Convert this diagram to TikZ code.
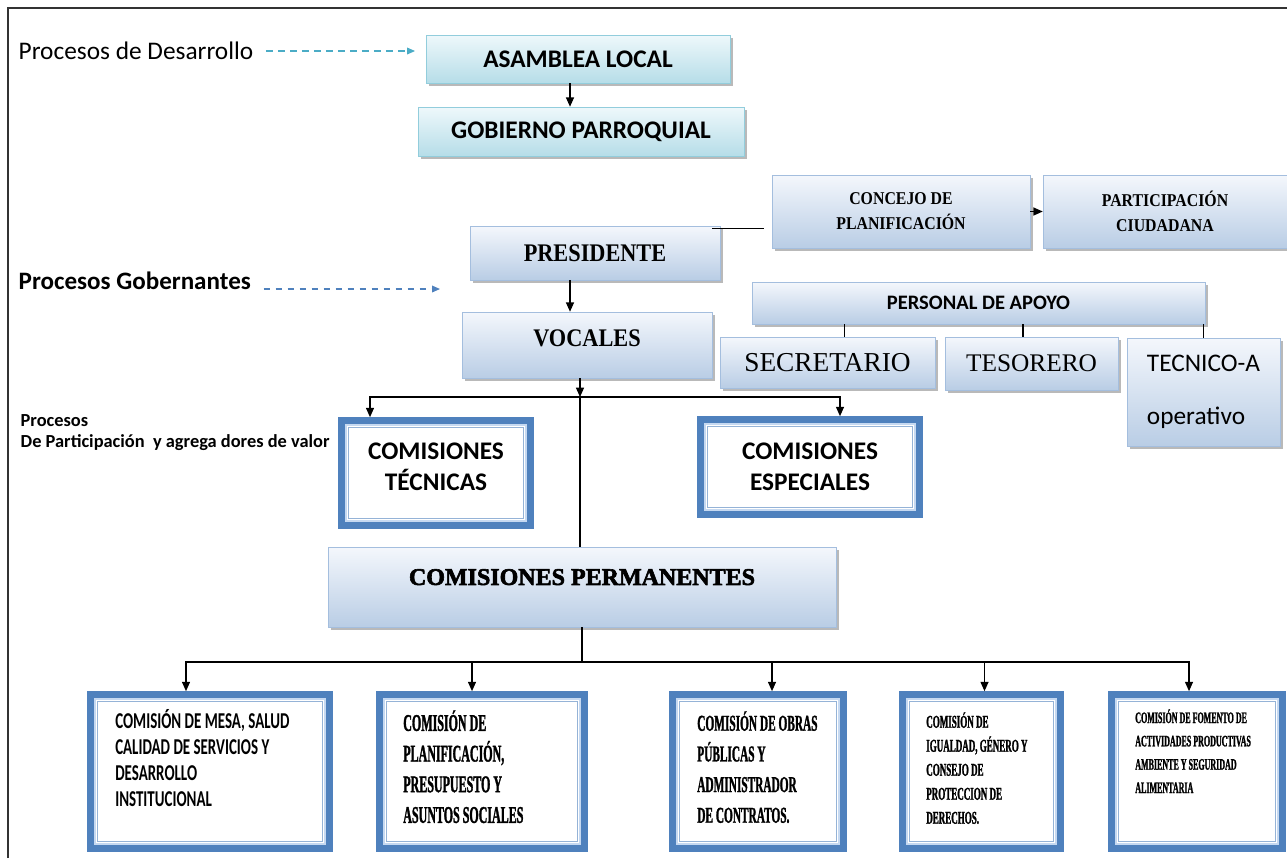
\documentclass[tikz,border=0pt]{standalone}
\usepackage{fontspec}
\setmainfont{Carlito}
\newfontfamily\tnr{Liberation Serif}
\newfontfamily\cnd{Liberation Serif}[FakeStretch=0.88]
\newfontfamily\nar{Liberation Serif}[FakeStretch=0.5,BoldFeatures={FakeBold=1.2}]
\newfontfamily\agn{Carlito}[FakeStretch=0.66]
\newfontfamily\alg{Liberation Serif}[BoldFeatures={FakeBold=2.5}]
\usetikzlibrary{arrows.meta,shadows}
\definecolor{bx1}{HTML}{F4F7FC}
\definecolor{bx2}{HTML}{B9CDE5}
\definecolor{bxd}{HTML}{A4BEDE}
\definecolor{cy1}{HTML}{EEF8FB}
\definecolor{cy2}{HTML}{B6DDE8}
\definecolor{cyd}{HTML}{92CDDC}
\definecolor{dbl}{HTML}{4F81BD}
\definecolor{lbl}{HTML}{C6D9F1}
\definecolor{mbl}{HTML}{95B3D7}
\definecolor{tl}{HTML}{4BACC6}
\newcommand{\fsz}[2]{\fontsize{#1}{#2}\selectfont}

\begin{document}
\begin{tikzpicture}[x=0.75pt,y=-0.75pt,
  sz/.style 2 args={minimum width=#1*0.75pt,minimum height=#2*0.75pt},
  b/.style={draw=bxd,top color=bx1,bottom color=bx2,inner sep=0pt,align=center,
    drop shadow={shadow xshift=2pt,shadow yshift=-2pt,fill=black!55}},
  c/.style={b,draw=cyd,top color=cy1,bottom color=cy2},
  d/.style={draw=dbl,line width=5pt,fill=white,inner sep=0pt,align=center,
    path picture={
      \draw[lbl,line width=1.6pt] ([xshift=3.6pt,yshift=-3.6pt]path picture bounding box.north west) rectangle ([xshift=-3.6pt,yshift=3.6pt]path picture bounding box.south east);
      \draw[mbl,line width=0.8pt] ([xshift=5.2pt,yshift=-5.2pt]path picture bounding box.north west) rectangle ([xshift=-5.2pt,yshift=5.2pt]path picture bounding box.south east);}},
  t/.style={anchor=north west,align=left,inner sep=0pt},
  a/.style={line width=0.9pt,-{Triangle[length=7pt,width=6pt]}},
  da/.style={line width=1pt,dash pattern=on 5pt off 4pt,-{Triangle[length=6pt,width=5pt]}}]
  \useasboundingbox (0,0) rectangle (1287,858);
  \draw[line width=1pt,black!80] (8,858) -- (8,8) -- (1287,8);

  \node[anchor=west,font=\fsz{19}{23}] (pd) at (14,51) {Procesos de Desarrollo};
  \node[anchor=west,font=\bfseries\fsz{18.8}{23}] (pg) at (14,281) {Procesos Gobernantes};
  \node[anchor=north west,align=left,font=\bfseries\fsz{13.8}{15.5}] (pp) at (16,410) {Procesos\\De Participación~ y agrega dores de valor};

  \node[c,sz={304}{48},font=\bfseries\fsz{19}{22}] (as) at (578,59) {ASAMBLEA LOCAL};
  \node[c,sz={326}{49},font=\bfseries\fsz{19}{22}] (gp) at (581,131.5) {GOBIERNO PARROQUIAL};
  \node[b,sz={258}{73},font=\cnd\bfseries\fsz{13.5}{18.75}] (co) at (901,211.5) {CONCEJO DE\\PLANIFICACIÓN};
  \node[b,sz={244}{73},font=\cnd\bfseries\fsz{13.5}{18.75}] (pa) at (1165,211.5) {PARTICIPACIÓN\\CIUDADANA};
  \node[b,sz={250}{54},font=\cnd\bfseries\fsz{19}{23}] (pr) at (595,253) {PRESIDENTE};
  \node[b,sz={250}{66},font=\cnd\bfseries\fsz{19}{23},text depth=10pt] (vo) at (587,345) {VOCALES};
  \node[b,sz={453}{42},font=\bfseries\fsz{15.4}{18}] (ap) at (978.5,303) {PERSONAL DE APOYO};
  \node[b,sz={215}{51},font=\tnr\fsz{20.5}{24}] (se) at (827.5,362.5) {SECRETARIO};
  \node[b,sz={173}{53},font=\tnr\fsz{19}{23}] (te) at (1031.5,363.5) {TESORERO};
  \node[b,sz={153}{108},font=\fsz{19}{22},align=left] (tc) at (1203.5,392) {TECNICO-A\\[18pt]operativo};

  \node[d,sz={189}{105},font=\bfseries\fsz{19}{23},text depth=9pt] (ct) at (436,473) {COMISIONES\\TÉCNICAS};
  \node[d,sz={219}{95},font=\bfseries\fsz{19}{23}] (ce) at (810,467) {COMISIONES\\ESPECIALES};
  \node[b,sz={508}{80},font=\alg\bfseries\fsz{18}{22},text depth=15pt] (pe) at (582,587) {COMISIONES PERMANENTES};

  \node[d,sz={239}{154}] (c1) at (210,771.5) {};
  \node[d,sz={205}{154}] (c2) at (482,771.5) {};
  \node[d,sz={171}{154}] (c3) at (758,771.5) {};
  \node[d,sz={158}{154}] (c4) at (981.5,771.5) {};
  \node[d,sz={171}{154}] (c5) at (1197,771.5) {};
  \node[t,font=\agn\bfseries\fsz{17}{19.5}] (t1) at (115,709) {COMISIÓN DE MESA, SALUD\\CALIDAD DE SERVICIOS Y\\DESARROLLO\\INSTITUCIONAL};
  \node[t,font=\nar\bfseries\fsz{18}{23}] (t2) at (403,710) {COMISIÓN DE\\PLANIFICACIÓN,\\PRESUPUESTO Y\\ASUNTOS SOCIALES};
  \node[t,font=\nar\bfseries\fsz{17}{23}] (t3) at (697,711) {COMISIÓN DE OBRAS\\PÚBLICAS Y\\ADMINISTRADOR\\DE CONTRATOS.};
  \node[t,font=\nar\bfseries\fsz{13.5}{18}] (t4) at (926,712) {COMISIÓN DE\\IGUALDAD, GÉNERO Y\\CONSEJO DE\\PROTECCION DE\\DERECHOS.};
  \node[t,font=\nar\bfseries\fsz{12}{17.5}] (t5) at (1135,709) {COMISIÓN DE FOMENTO DE\\ACTIVIDADES PRODUCTIVAS\\AMBIENTE Y SEGURIDAD\\ALIMENTARIA};

  \coordinate (ge) at (440,289);
  \coordinate (vb) at (580,397);
  \coordinate (pb) at (582,662);

  \draw[da,tl,shorten <=6pt,shorten >=8pt] (pd.east) -- (pd.east -| as.west);
  \draw[da,dbl,shorten <=6pt] (pg.east |- ge) -- (ge);
  \draw[a] ([shift={(-8,0)}]as.south) -- ([shift={(-8,0)}]as.south |- gp.north);
  \draw[line width=0.9pt] ([shift={(-8,3)}]pr.north east) -- ([shift={(-8,3)}]pr.north east -| co.west);
  \draw[a] (co) -- (pa);
  \draw[a] ([shift={(-25,0)}]pr.south) -- ([shift={(-25,0)}]pr.south |- vo.north);
  \draw[line width=0.9pt] ([shift={(17,0)}]se.north) -- ([shift={(17,0)}]se.north |- ap.south);
  \draw[line width=0.9pt] ([shift={(-8.5,0)}]te.north) -- ([shift={(-8.5,0)}]te.north |- ap.south);
  \draw[line width=0.9pt] (tc.north) -- (tc.north |- ap.south);
  \draw[a] ([shift={(-7,0)}]vo.south) -- (vb);
  \draw[a] (vb) -| ([shift={(-66,0)}]ct.north);
  \draw[a] (vb) -| ([shift={(30,0)}]ce.north);
  \draw[line width=0.9pt] (vb) -- (vb |- pe.north);
  \draw[line width=0.9pt] (pe.south) -- (pb);
  \draw[a] (pb) -| ([shift={(-24,0)}]c1.north);
  \draw[a] (pb) -| ([shift={(-10,0)}]c2.north);
  \draw[a] (pb) -| ([shift={(14,0)}]c3.north);
  \draw[a] (pb) -| ([shift={(3,0)}]c4.north);
  \draw[a] (pb) -| ([shift={(-8,0)}]c5.north);
\end{tikzpicture}
\end{document}
